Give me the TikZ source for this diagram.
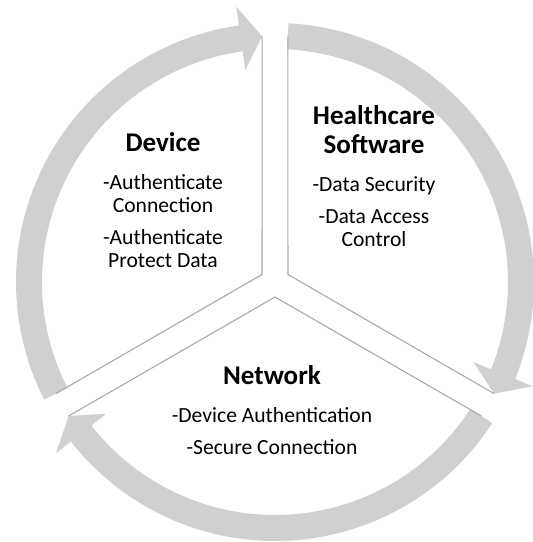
\documentclass[tikz,border=0pt]{standalone}
\usepackage{fontspec}
\setmainfont{Carlito}
\usetikzlibrary{positioning}
\definecolor{bandgray}{RGB}{208,208,208}
\definecolor{edgegray}{RGB}{166,166,166}

\begin{document}
\begin{tikzpicture}[x=0.02cm,y=0.02cm,node distance=12.5pt]
\tikzstyle{band}=[fill=bandgray,draw=none]
\tikzstyle{sectoredge}=[draw=edgegray,line width=0.6pt]
\tikzstyle{sectitle}=[font=\bfseries\fontsize{15.4}{16.5}\selectfont,align=center,inner sep=0pt,anchor=south]
\tikzstyle{sectext}=[font=\fontsize{12.3}{13.2}\selectfont,align=center,inner sep=0pt]

\useasboundingbox (-275,-260) rectangle (257,282);

% arrows round the circle
\fill[band] (207:233) arc[start angle=207, end angle=98, radius=233] -- (98:214) -- (93:246)
  -- (98:278) -- (98:259) arc[start angle=98, end angle=207, radius=259] -- cycle;
\fill[band] (87:233) arc[start angle=87, end angle=-22, radius=233] -- (-22:214) -- (-27:246)
  -- (-22:278) -- (-22:259) arc[start angle=-22, end angle=87, radius=259] -- cycle;
\fill[band] (327:233) arc[start angle=327, end angle=218, radius=233] -- (218:214) -- (213:246)
  -- (218:278) -- (218:259) arc[start angle=218, end angle=327, radius=259] -- cycle;

% sector borders
\draw[sectoredge] (93:246) -- (150:15) -- (207:246);
\draw[sectoredge] (87:246) -- (30:15) -- (-27:246);
\draw[sectoredge] (213:246) -- (270:15) -- (327:246);

\node[sectitle] (devtitle) at (-112,130) {Device};
\node[sectext, below = of devtitle.south] (devtext) {-Authenticate\\Connection\\[5pt]-Authenticate\\Protect Data};

\node[sectitle] (hctitle) at (99,128) {Healthcare\\Software};
\node[sectext, below = of hctitle.south] (hctext) {-Data Security\\[5pt]-Data Access\\Control};

\node[sectitle] (nettitle) at (-3,-103) {Network};
\node[sectext, below = of nettitle.south] (nettext) {-Device Authentication\\[5pt]-Secure Connection};
\end{tikzpicture}
\end{document}
